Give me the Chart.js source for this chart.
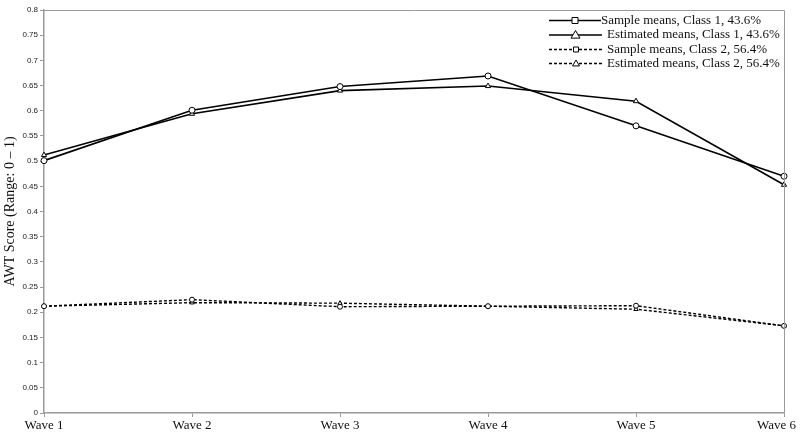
<!DOCTYPE html>
<html>
<head>
<meta charset="utf-8">
<script src="https://cdn.jsdelivr.net/npm/chart.js@4.4.1/dist/chart.umd.min.js"></script>
<style>
  html, body { margin: 0; padding: 0; background: #fff; }
  #wrap { width: 800px; height: 438px; position: relative; }
</style>
</head>
<body>
<div id="wrap"><canvas id="c" width="800" height="438"></canvas></div>
<script>
const categories = ["Wave 1", "Wave 2", "Wave 3", "Wave 4", "Wave 5", "Wave 6"];
const sampleClass1 = [0.501, 0.601, 0.648, 0.669, 0.570, 0.470];
const estimatedClass1 = [0.512, 0.594, 0.640, 0.649, 0.619, 0.453];
const sampleClass2 = [0.212, 0.225, 0.211, 0.212, 0.213, 0.173];
const estimatedClass2 = [0.212, 0.219, 0.218, 0.212, 0.206, 0.173];
const seriesNames = [
  "Sample means, Class 1, 43.6%",
  "Estimated means, Class 1, 43.6%",
  "Sample means, Class 2, 56.4%",
  "Estimated means, Class 2, 56.4%"
];
const yTitle = "AWT Score (Range: 0 \u2013 1)";

const serif = '"Liberation Serif", "Times New Roman", serif';
const sans = '"Liberation Sans", Arial, sans-serif';

function ds(label, data, dashed, pstyle, r) {
  return {
    label, data,
    borderColor: '#000', backgroundColor: '#fff',
    borderWidth: dashed ? 1.4 : 1.6,
    borderDash: dashed ? [3, 2] : [],
    pointStyle: pstyle, pointRadius: r, pointBorderWidth: 1,
    pointBackgroundColor: '#fff', pointBorderColor: '#000',
    tension: 0, fill: false
  };
}

const framePlugin = {
  id: 'frame',
  afterDraw(chart) {
    const ctx = chart.ctx, a = chart.chartArea;
    ctx.save();
    ctx.strokeStyle = '#9a9a9a';
    ctx.lineWidth = 1;
    ctx.beginPath();
    ctx.moveTo(a.left, a.top + 0.5);
    ctx.lineTo(a.right + 0.5, a.top + 0.5);
    ctx.lineTo(a.right + 0.5, a.bottom);
    ctx.stroke();

    // x labels
    const xs = chart.scales.x;
    ctx.fillStyle = '#111';
    ctx.font = '13px ' + serif;
    ctx.textBaseline = 'middle';
    categories.forEach((c, i) => {
      const px = xs.getPixelForValue(i);
      const w = ctx.measureText(c).width;
      let x = px - w / 2;
      if (x + w > 796) x = 796 - w;
      ctx.textAlign = 'left';
      ctx.fillText(c, x, 426);
    });

    // y title, centred on the plot area
    ctx.save();
    ctx.translate(10, (a.top + a.bottom) / 2);
    ctx.rotate(-Math.PI / 2);
    ctx.textAlign = 'center';
    ctx.textBaseline = 'middle';
    ctx.font = '14px ' + serif;
    ctx.fillText(yTitle, 0, 0);
    ctx.restore();

    // legend
    const rows = [20.5, 35, 49.5, 63.5];
    const styles = [
      {dash: [], shape: 'square', x0: 549, x1: 601, tx: 601},
      {dash: [], shape: 'tri', x0: 549, x1: 602, tx: 607},
      {dash: [3, 2], shape: 'square', x0: 549, x1: 603, tx: 607},
      {dash: [3, 2], shape: 'tri', x0: 549, x1: 603, tx: 607}
    ];
    rows.forEach((y, i) => {
      const s = styles[i];
      ctx.strokeStyle = '#000';
      ctx.lineWidth = 1.4;
      ctx.setLineDash(s.dash);
      ctx.beginPath();
      ctx.moveTo(s.x0, y);
      ctx.lineTo(s.x1, y);
      ctx.stroke();
      ctx.setLineDash([]);
      const mx = (s.x0 + s.x1) / 2;
      ctx.fillStyle = '#fff';
      ctx.lineWidth = 1;
      ctx.beginPath();
      if (s.shape === 'square') {
        const h = i < 2 ? 3 : 2.5;
        ctx.rect(mx - h, y - h, 2 * h, 2 * h);
      } else {
        const h = i < 2 ? 4.5 : 3.5;
        ctx.moveTo(mx, y - h);
        ctx.lineTo(mx + h, y + h * 0.7);
        ctx.lineTo(mx - h, y + h * 0.7);
        ctx.closePath();
      }
      ctx.fill();
      ctx.stroke();
      ctx.fillStyle = '#111';
      ctx.font = '13px ' + serif;
      ctx.textAlign = 'left';
      ctx.textBaseline = 'middle';
      ctx.fillText(seriesNames[i], s.tx, y);
    });
    ctx.restore();
  }
};

new Chart(document.getElementById('c'), {
  type: 'line',
  data: {
    labels: categories,
    datasets: [
      ds(seriesNames[0], sampleClass1, false, 'circle', 3),
      ds(seriesNames[1], estimatedClass1, false, 'triangle', 3),
      ds(seriesNames[2], sampleClass2, true, 'circle', 2.5),
      ds(seriesNames[3], estimatedClass2, true, 'triangle', 2.5)
    ]
  },
  options: {
    responsive: false,
    animation: false,
    devicePixelRatio: 1,
    layout: { padding: { left: 0, right: 16, top: 10, bottom: 0 } },
    plugins: { legend: { display: false }, tooltip: { enabled: false }, title: { display: false } },
    scales: {
      x: {
        type: 'category',
        offset: false,
        border: { color: '#9a9a9a', width: 1.5 },
        grid: { display: true, drawOnChartArea: false, drawTicks: true, tickLength: 4, color: '#9a9a9a' },
        ticks: { display: false },
        afterFit(s) { s.height = 25; }
      },
      y: {
        min: 0, max: 0.8,
        border: { color: '#9a9a9a', width: 1.5 },
        grid: { display: true, drawOnChartArea: false, drawTicks: true, tickLength: 4, color: '#9a9a9a' },
        ticks: {
          stepSize: 0.05, padding: 2, color: '#222',
          font: { family: sans, size: 8 },
          callback: v => String(+Number(v).toFixed(2))
        },
        afterFit(s) { s.width = 44; }
      }
    }
  },
  plugins: [framePlugin]
});
</script>
</body>
</html>
